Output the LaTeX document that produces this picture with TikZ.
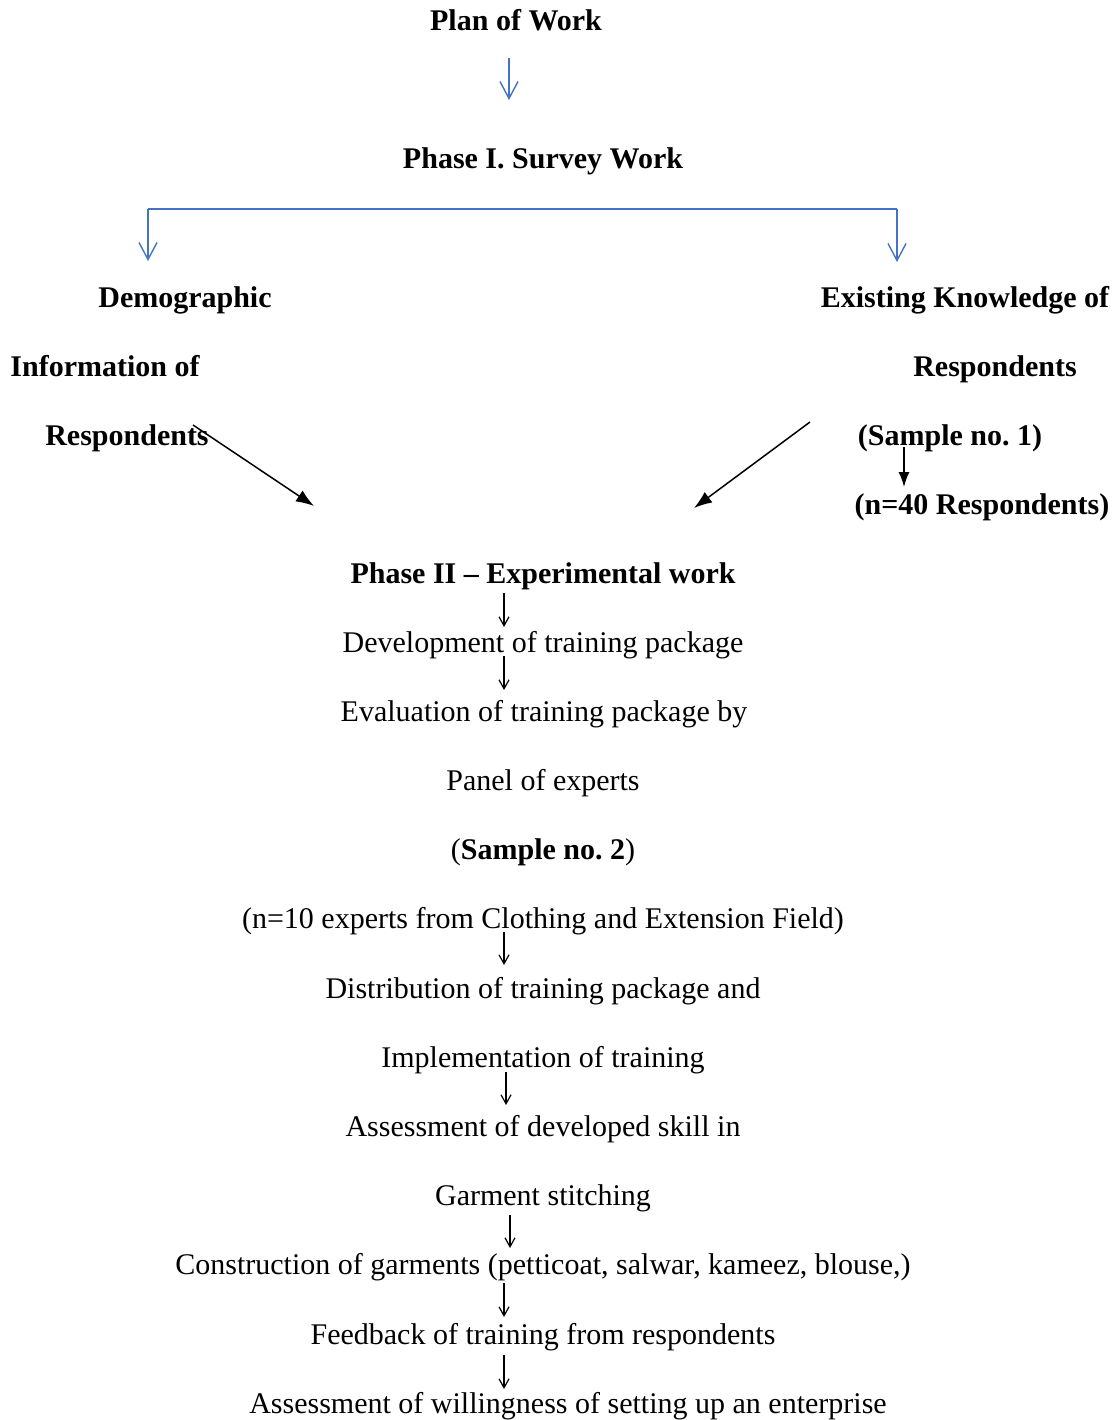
\documentclass[tikz,border=0pt]{standalone}
\usepackage{fontspec}
\setmainfont{Liberation Serif}
\usetikzlibrary{arrows.meta}
\definecolor{wblue}{RGB}{68,114,196}
\begin{document}
\frenchspacing
\begin{tikzpicture}[x=1pt,y=-1pt,
  txt/.style={font=\fontsize{30}{36}\selectfont, inner sep=0pt, text height=22pt, text depth=1.5pt, anchor=center},
  btxt/.style={txt, font=\fontsize{30}{36}\selectfont\bfseries},
  bluearrow/.style={draw=wblue, line width=1.4pt, -{Straight Barb[length=17pt,width=18pt,line width=1.4pt]}},
  bluebar/.style={draw=wblue, line width=1.4pt},
  smallarrow/.style={draw=black, line width=1.2pt, -{Straight Barb[length=9pt,width=10pt,line width=1.2pt]}},
  bigarrow/.style={draw=black, line width=1.5pt, -{Latex[length=18pt,width=13pt]}},
  midarrow/.style={draw=black, line width=1.5pt, -{Latex[length=15pt,width=11pt]}}
]
\useasboundingbox (0,0) rectangle (1118,1420);

% Top
\node[btxt] (plan) at (516,20) {Plan of Work};
\coordinate (a1s) at (509,58);
\coordinate (a1e) at (509,100);
\draw[bluearrow] (a1s) -- (a1e);
\node[btxt] (phase1) at (543,158) {Phase I. Survey Work};

% bracket
\coordinate (bl) at (148,209);
\coordinate (br) at (897,209);
\coordinate (blt) at (148,261);
\coordinate (brt) at (897,262);
\draw[bluebar] (bl) -- (br);
\draw[bluearrow] (bl) -- (blt);
\draw[bluearrow] (br) -- (brt);

% left branch
\node[btxt] (demo1) at (185,297) {Demographic};
\node[btxt] (demo2) at (105,366) {Information of};
\node[btxt] (demo3) at (127,435) {Respondents};

% right branch
\node[btxt] (ek1) at (965,297) {Existing Knowledge of};
\node[btxt] (ek2) at (995,366) {Respondents};
\node[btxt] (ek3) at (950,435) {(Sample no. 1)};
\node[btxt] (ek4) at (982,504) {(n=40 Respondents)};

\coordinate (s1s) at (904,447);
\coordinate (s1e) at (904,487);
\draw[midarrow] (s1s) -- (s1e);

\coordinate (l1s) at (193,425);
\coordinate (l1e) at (314,506);
\draw[bigarrow] (l1s) -- (l1e);
\coordinate (r1s) at (810,422);
\coordinate (r1e) at (694,508);
\draw[bigarrow] (r1s) -- (r1e);

% Phase II
\node[btxt] (phase2) at (543,573) {Phase II -- Experimental work};
\node[txt] (dev) at (543,642) {Development of training package};
\node[txt] (eval1) at (544,711) {Evaluation of training package by};
\node[txt] (eval2) at (543,780) {Panel of experts};
\node[txt] (eval3) at (543,849) {(\textbf{Sample no. 2})};
\node[txt] (eval4) at (543,918) {(n=10 experts from Clothing and Extension Field)};
\node[txt] (dist1) at (543,988) {Distribution of training package and};
\node[txt] (dist2) at (543,1057) {Implementation of training};
\node[txt] (ass1) at (543,1126) {Assessment of developed skill in};
\node[txt] (ass2) at (543,1195) {Garment stitching};
\node[txt] (cons) at (543,1264) {Construction of garments (petticoat, salwar, kameez, blouse,)};
\node[txt] (feed) at (543,1334) {Feedback of training from respondents};
\node[txt] (will) at (568,1403) {Assessment of willingness of setting up an enterprise};

% small arrows
\coordinate (v1s) at (504,593);  \coordinate (v1e) at (504,627);
\coordinate (v2s) at (504,656);  \coordinate (v2e) at (504,690);
\coordinate (v3s) at (504,932);  \coordinate (v3e) at (504,965);
\coordinate (v4s) at (506,1072); \coordinate (v4e) at (506,1105);
\coordinate (v5s) at (510,1215); \coordinate (v5e) at (510,1248);
\coordinate (v6s) at (504,1283); \coordinate (v6e) at (504,1317);
\coordinate (v7s) at (504,1355); \coordinate (v7e) at (504,1389);
\foreach \i in {1,...,7} {\draw[smallarrow] (v\i s) -- (v\i e);}
\end{tikzpicture}
\end{document}
